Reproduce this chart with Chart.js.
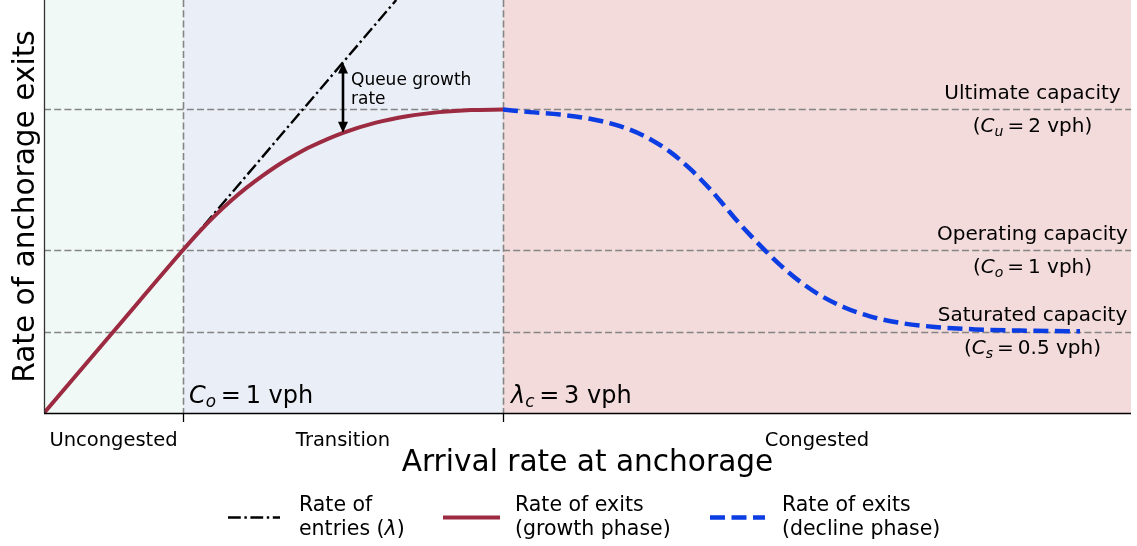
<!DOCTYPE html>
<html>
<head>
<meta charset="utf-8">
<script src="https://cdn.jsdelivr.net/npm/chart.js@4/dist/chart.umd.min.js"></script>
<style>
  html, body { margin: 0; padding: 0; background: #ffffff; }
  canvas { display: block; }
</style>
</head>
<body>
<canvas id="chart" width="1137" height="546"></canvas>
<script>
// ---- Data (x: arrival rate, y: exit rate; both in units of the operating capacity) ----
const entryX = [0, 2.534];
const entryY = [0, 2.534];

const growthX = [0, 0.5, 1.0, 1.115, 1.230, 1.345, 1.460, 1.576, 1.691, 1.806, 1.921, 2.151, 2.381, 2.611, 2.842, 3.072, 3.302];
const growthY = [0, 0.5, 1.0, 1.110, 1.211, 1.302, 1.384, 1.458, 1.525, 1.583, 1.635, 1.719, 1.780, 1.821, 1.846, 1.859, 1.862];

const declineX = [3.302, 3.496, 3.712, 3.928, 4.144, 4.324, 4.504, 4.647, 4.791, 4.899, 4.986, 5.079, 5.187, 5.295, 5.439, 5.583, 5.763, 5.942, 6.158, 6.410, 6.698, 7.022, 7.453];
const declineY = [1.862, 1.846, 1.831, 1.805, 1.760, 1.697, 1.602, 1.499, 1.374, 1.267, 1.179, 1.093, 0.998, 0.909, 0.806, 0.723, 0.646, 0.593, 0.553, 0.528, 0.513, 0.506, 0.501];

// Capacity levels and regime boundaries
const capacityLevels = [1.865, 1.0, 0.5];          // ultimate, operating, saturated
const capacityNames  = ['Ultimate capacity', 'Operating capacity', 'Saturated capacity'];
const capacitySymbols = ['u', 'o', 's'];
const capacityValues = ['2', '1', '0.5'];
const boundaryX = [1.0, 3.302];                      // C_o, lambda_c
const boundarySymbols = [['C', 'o', '1'], ['\u03bb', 'c', '3']];
const regimeNames = ['Uncongested', 'Transition', 'Congested'];
const xMax = 7.82;
const yMax = 2.534;
const queueArrowX = 2.151;

const FONT = "'DejaVu Sans', 'Liberation Sans', sans-serif";
const COLORS = {
  entry: '#000000',
  growth: '#9c2a41',
  decline: '#0b3de3',
  grid: '#858585',
  regions: ['#f1f9f6', '#eaeff7', '#f3dadb']
};

const toPoints = (xs, ys) => xs.map((x, i) => ({ x: x, y: ys[i] }));

// Text runs (plain / italic / subscript) laid out left to right on one baseline
function runsWidth(ctx, runs, size) {
  let w = 0;
  runs.forEach(r => {
    const s = r.sub ? size * 0.7 : size;
    ctx.font = (r.it ? 'italic ' : '') + s + 'px ' + FONT;
    w += ctx.measureText(r.t).width;
  });
  return w;
}
function drawRuns(ctx, runs, x, y, size, align) {
  let cx = x;
  const total = runsWidth(ctx, runs, size);
  if (align === 'center') cx = x - total / 2;
  if (align === 'right') cx = x - total;
  ctx.textAlign = 'left';
  ctx.textBaseline = 'alphabetic';
  runs.forEach(r => {
    const s = r.sub ? size * 0.7 : size;
    ctx.font = (r.it ? 'italic ' : '') + s + 'px ' + FONT;
    ctx.fillText(r.t, cx, y + (r.sub ? size * 0.2 : 0));
    cx += ctx.measureText(r.t).width;
  });
}

const diagramPlugin = {
  id: 'diagram',
  beforeDatasetsDraw(chart) {
    const { ctx, chartArea: a, scales: { x, y } } = chart;
    ctx.save();
    // regime shading
    const edges = [0, boundaryX[0], boundaryX[1], xMax];
    for (let i = 0; i < 3; i++) {
      const l = x.getPixelForValue(edges[i]);
      const r = x.getPixelForValue(edges[i + 1]);
      ctx.fillStyle = COLORS.regions[i];
      ctx.fillRect(l, a.top, r - l, a.bottom - a.top);
    }
    // dashed reference lines
    ctx.strokeStyle = COLORS.grid;
    ctx.lineWidth = 1.6;
    ctx.setLineDash([7, 3.2]);
    capacityLevels.forEach(v => {
      const py = Math.round(y.getPixelForValue(v)) + 0.5;
      ctx.beginPath(); ctx.moveTo(a.left, py); ctx.lineTo(a.right, py); ctx.stroke();
    });
    boundaryX.forEach(v => {
      const px = Math.round(x.getPixelForValue(v)) + 0.5;
      ctx.beginPath(); ctx.moveTo(px, a.top); ctx.lineTo(px, a.bottom); ctx.stroke();
    });
    ctx.restore();
  },
  afterDatasetsDraw(chart) {
    const { ctx, chartArea: a, scales: { x, y } } = chart;
    ctx.save();
    ctx.fillStyle = '#000';
    ctx.strokeStyle = '#000';

    // spines and boundary ticks
    ctx.setLineDash([]);
    ctx.lineWidth = 1.3;
    ctx.strokeStyle = '#333';
    ctx.beginPath(); ctx.moveTo(a.left + 0.5, a.top); ctx.lineTo(a.left + 0.5, a.bottom); ctx.stroke();
    ctx.strokeStyle = '#000';
    ctx.beginPath(); ctx.moveTo(a.left, a.bottom + 0.5); ctx.lineTo(a.right, a.bottom + 0.5); ctx.stroke();
    boundaryX.forEach(v => {
      const px = Math.round(x.getPixelForValue(v)) + 0.5;
      ctx.beginPath(); ctx.moveTo(px, a.bottom); ctx.lineTo(px, a.bottom + 9); ctx.stroke();
    });

    // queue growth arrow between entry line and growth curve
    const ax = x.getPixelForValue(queueArrowX);
    const gi = growthX.indexOf(queueArrowX);
    const yTop = y.getPixelForValue(queueArrowX);
    const yBot = y.getPixelForValue(growthY[gi]);
    ctx.lineWidth = 2.6;
    ctx.beginPath(); ctx.moveTo(ax, yTop + 6); ctx.lineTo(ax, yBot - 6); ctx.stroke();
    const head = (tipY, dir) => {
      ctx.beginPath();
      ctx.moveTo(ax, tipY);
      ctx.lineTo(ax - 5, tipY + dir * 11);
      ctx.lineTo(ax + 5, tipY + dir * 11);
      ctx.closePath(); ctx.fill();
    };
    head(yTop, 1); head(yBot, -1);
    ctx.font = '17px ' + FONT;
    ctx.textAlign = 'left'; ctx.textBaseline = 'alphabetic';
    ctx.fillText('Queue growth', ax + 8, 84.5);
    ctx.fillText('rate', ax + 8, 103.5);

    // boundary labels
    boundaryX.forEach((v, i) => {
      const px = x.getPixelForValue(v);
      const s = boundarySymbols[i];
      drawRuns(ctx, [{ t: s[0], it: true }, { t: s[1], it: true, sub: true }, { t: '\u2009=\u20091 vph'.replace('1', s[2]) }],
        px + (i === 0 ? 6 : 8), a.bottom - 10.5, 24, 'left');
    });

    // capacity labels (two centred lines around each level)
    const cx = 1032.5;
    capacityLevels.forEach((v, i) => {
      const py = y.getPixelForValue(v);
      ctx.font = '20px ' + FONT;
      ctx.textAlign = 'center';
      ctx.fillText(capacityNames[i], cx, py - 10.5);
      drawRuns(ctx, [{ t: '(' }, { t: 'C', it: true }, { t: capacitySymbols[i], it: true, sub: true },
        { t: '\u2009=\u2009' + capacityValues[i] + ' vph)' }], cx, py + 22.5, 20, 'center');
    });

    // regime names under the axis
    const edges = [0, boundaryX[0], boundaryX[1], xMax];
    ctx.font = '19.5px ' + FONT;
    ctx.textAlign = 'center';
    regimeNames.forEach((n, i) => {
      const mid = (x.getPixelForValue(edges[i]) + x.getPixelForValue(edges[i + 1])) / 2;
      ctx.fillText(n, mid, 445.5);
    });

    // axis titles
    ctx.font = '29.6px ' + FONT;
    ctx.fillText('Arrival rate at anchorage', (a.left + a.right) / 2, 471);
    ctx.save();
    ctx.translate(33.5, (a.top + a.bottom) / 2);
    ctx.rotate(-Math.PI / 2);
    ctx.fillText('Rate of anchorage exits', 0, 0);
    ctx.restore();

    // legend
    const ds = chart.data.datasets;
    const legend = [
      { x0: 228, x1: 280, tx: 299, lines: [[{ t: 'Rate of' }], [{ t: 'entries (' }, { t: '\u03bb', it: true }, { t: ')' }]] },
      { x0: 443, x1: 500, tx: 515, lines: [[{ t: 'Rate of exits' }], [{ t: '(growth phase)' }]] },
      { x0: 710, x1: 765, tx: 782, lines: [[{ t: 'Rate of exits' }], [{ t: '(decline phase)' }]] }
    ];
    legend.forEach((item, i) => {
      const d = ds[i];
      ctx.strokeStyle = d.borderColor;
      ctx.lineWidth = d.borderWidth;
      ctx.setLineDash(d.borderDash || []);
      ctx.beginPath(); ctx.moveTo(item.x0, 517.5); ctx.lineTo(item.x1, 517.5); ctx.stroke();
      ctx.setLineDash([]);
      ctx.fillStyle = '#000';
      drawRuns(ctx, item.lines[0], item.tx, 511, 20.5, 'left');
      drawRuns(ctx, item.lines[1], item.tx, 535, 20.5, 'left');
    });
    ctx.restore();
  }
};

new Chart(document.getElementById('chart'), {
  type: 'line',
  data: {
    datasets: [
      {
        label: 'Rate of entries (\u03bb)',
        data: toPoints(entryX, entryY),
        borderColor: COLORS.entry,
        borderWidth: 2.4,
        borderDash: [12.8, 3.6, 2.4, 3.6],
        pointRadius: 0,
        order: 3
      },
      {
        label: 'Rate of exits (growth phase)',
        data: toPoints(growthX, growthY),
        borderColor: COLORS.growth,
        borderWidth: 4,
        cubicInterpolationMode: 'monotone',
        pointRadius: 0,
        order: 2
      },
      {
        label: 'Rate of exits (decline phase)',
        data: toPoints(declineX, declineY),
        borderColor: COLORS.decline,
        borderWidth: 4.5,
        borderDash: [15, 6.5],
        cubicInterpolationMode: 'monotone',
        pointRadius: 0,
        order: 1
      }
    ]
  },
  options: {
    responsive: false,
    devicePixelRatio: 1,
    animation: false,
    layout: { padding: { left: 44, right: 6, top: 0, bottom: 133 } },
    scales: {
      x: { type: 'linear', min: 0, max: xMax, display: false },
      y: { type: 'linear', min: 0, max: yMax, display: false }
    },
    plugins: { legend: { display: false }, tooltip: { enabled: false } }
  },
  plugins: [diagramPlugin]
});
</script>
</body>
</html>
